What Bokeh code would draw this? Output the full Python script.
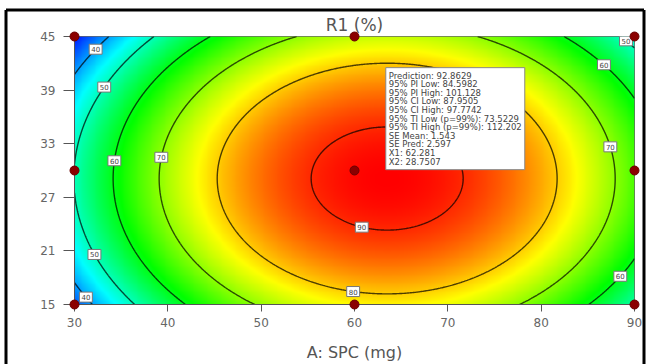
import numpy as np
from bokeh.plotting import figure
from bokeh.models import Label, FixedTicker
from bokeh.embed import file_html
from bokeh.resources import INLINE

# R1 = F0 - a_A*(A - A_c)^2 - b_B*(B - B_c)^2
F0 = 92.5
A_c = 63.5
B_c = 29.1
a_A = 0.0377
b_B = 0.075

x_ticks = [30, 40, 50, 60, 70, 80, 90]
y_ticks = [15, 21, 27, 33, 39, 45]
levels = [40, 50, 60, 70, 80, 90]

# colour scale limits
v_min = 30.0
v_max = 92.5

# design points
design_A = [30, 30, 30, 60, 60, 60, 90, 90, 90]
design_B = [15, 30, 45, 15, 30, 45, 15, 30, 45]

# contour labels (level, approximate position)
label_levels = [40, 40, 50, 50, 60, 70, 90, 80, 50, 60, 70, 60]
label_A = [32.0, 31.4, 33.0, 32.5, 34.1, 39.1, 60.6, 59.9, 88.4, 86.3, 87.1, 87.7]
label_B = [43.7, 15.9, 39.4, 20.7, 31.1, 31.5, 23.3, 16.6, 44.1, 41.6, 32.6, 18.5]

# tooltip
tip_names = ["Prediction", "95% PI Low", "95% PI High", "95% CI Low", "95% CI High",
             "95% TI Low (p=99%)", "95% TI High (p=99%)", "SE Mean", "SE Pred", "X1", "X2"]
tip_values = ["92.8629", "84.5982", "101.128", "87.9505", "97.7742",
              "73.5229", "112.202", "1.543", "2.597", "62.281", "28.7507"]
X1 = 62.281
X2 = 28.7507


def model(A, B):
    return F0 - a_A * (A - A_c) ** 2 - b_B * (B - B_c) ** 2


x_lo, x_hi = x_ticks[0], x_ticks[-1]
y_lo, y_hi = y_ticks[0], y_ticks[-1]
xs = np.linspace(x_lo, x_hi, 600)
ys = np.linspace(y_lo, y_hi, 300)
XX, YY = np.meshgrid(xs, ys)
Z = model(XX, YY)

# Design-Expert style colour ramp: blue - cyan - green - yellow - red
stop_pos = [0.0, 0.25, 0.5, 0.75, 1.0]
stop_r = [0, 0, 0, 255, 255]
stop_g = [0, 255, 255, 255, 0]
stop_b = [255, 255, 0, 0, 0]
t = np.clip((Z - v_min) / (v_max - v_min), 0, 1)
rgba = np.zeros(Z.shape + (4,), dtype=np.uint8)
rgba[..., 0] = np.interp(t, stop_pos, stop_r).astype(np.uint8)
rgba[..., 1] = np.interp(t, stop_pos, stop_g).astype(np.uint8)
rgba[..., 2] = np.interp(t, stop_pos, stop_b).astype(np.uint8)
rgba[..., 3] = 255
img = rgba.view(dtype=np.uint32).reshape(Z.shape)

W, H = 647, 364
B_L, B_R, B_T, B_B = 74, 13, 36, 59
p = figure(width=W, height=H, x_range=(x_lo, x_hi), y_range=(y_lo, y_hi),
           output_backend="svg", toolbar_location=None,
           min_border_left=B_L, min_border_right=B_R, min_border_top=B_T, min_border_bottom=B_B)
p.background_fill_color = "white"
p.border_fill_color = "white"
p.grid.visible = False
p.outline_line_color = "#666666"
p.outline_line_width = 1

p.image_rgba(image=[img], x=x_lo, y=y_lo, dw=x_hi - x_lo, dh=y_hi - y_lo)
p.contour(xs, ys, Z, levels, line_color="black", line_alpha=0.7, line_width=1.4)

# title
p.title.text = "R1 (%)"
p.title.align = "center"
p.title.text_font = "DejaVu Sans"
p.title.text_font_size = "17px"
p.title.text_font_style = "normal"
p.title.text_color = "#555555"
p.title.offset = 0
p.title.standoff = 4

# axes
p.xaxis.ticker = FixedTicker(ticks=x_ticks)
p.yaxis.ticker = FixedTicker(ticks=y_ticks)
p.xaxis.axis_label = "A: SPC (mg)"
for ax in (p.xaxis, p.yaxis):
    ax.axis_line_color = "#555555"
    ax.major_tick_line_color = "#555555"
    ax.minor_tick_line_color = None
    ax.major_tick_in = 0
    ax.major_label_text_font = "DejaVu Sans"
    ax.major_label_text_font_size = "12px"
    ax.major_label_text_color = "#666666"
p.xaxis.major_tick_out = 7
p.yaxis.major_tick_out = 11
p.xaxis.major_label_standoff = 6
p.yaxis.major_label_standoff = 8
p.xaxis.axis_label_text_font = "DejaVu Sans"
p.xaxis.axis_label_text_font_size = "16px"
p.xaxis.axis_label_text_font_style = "normal"
p.xaxis.axis_label_text_color = "#555555"
p.xaxis.axis_label_standoff = 13

# contour labels, placed on their contour along the ray from the centre
for lev, la, lb in zip(label_levels, label_A, label_B):
    dx, dy = la - A_c, lb - B_c
    s = np.sqrt((F0 - lev) / (a_A * dx ** 2 + b_B * dy ** 2))
    p.add_layout(Label(x=A_c + s * dx, y=B_c + s * dy, text=str(lev),
                       text_font="DejaVu Sans", text_font_size="7px", text_color="#444444",
                       text_align="center", text_baseline="middle",
                       background_fill_color="white", border_line_color="#777777",
                       border_line_width=1, padding=2))

# design points
p.scatter(design_A, design_B, size=9, marker="circle", fill_color="#8b0000",
          line_color="#6b0000", level="overlay")

# tooltip box
tip_text = "\n".join(f"{n}: {v}" for n, v in zip(tip_names, tip_values))
p.add_layout(Label(x=X1, y=X2, x_offset=10, y_offset=12, text=tip_text,
                   text_font="DejaVu Sans", text_font_size="8.5px", text_color="#444444",
                   text_line_height=0.86, text_align="left", text_baseline="bottom",
                   background_fill_color="white", border_line_color="#888888",
                   border_line_width=1, padding=3))

# outer black frame of the picture (decoration), positioned from the canvas geometry
ppx = (W - B_L - B_R) / (x_hi - x_lo)
ppy = (H - B_T - B_B) / (y_hi - y_lo)
fl = x_lo - (B_L - 5.5) / ppx
fr = x_hi + (643.5 - (W - B_R)) / ppx
ft = y_hi + (B_T - 9.5) / ppy
fb = y_lo - (H + 20 - (H - B_B)) / ppy
p.multi_line(xs=[[fl, fl], [fl, fr], [fr, fr]], ys=[[fb, ft], [ft, ft], [ft, fb]],
             line_color="black", line_width=3, level="overlay")

open("out.html", "w").write(file_html(p, INLINE))
